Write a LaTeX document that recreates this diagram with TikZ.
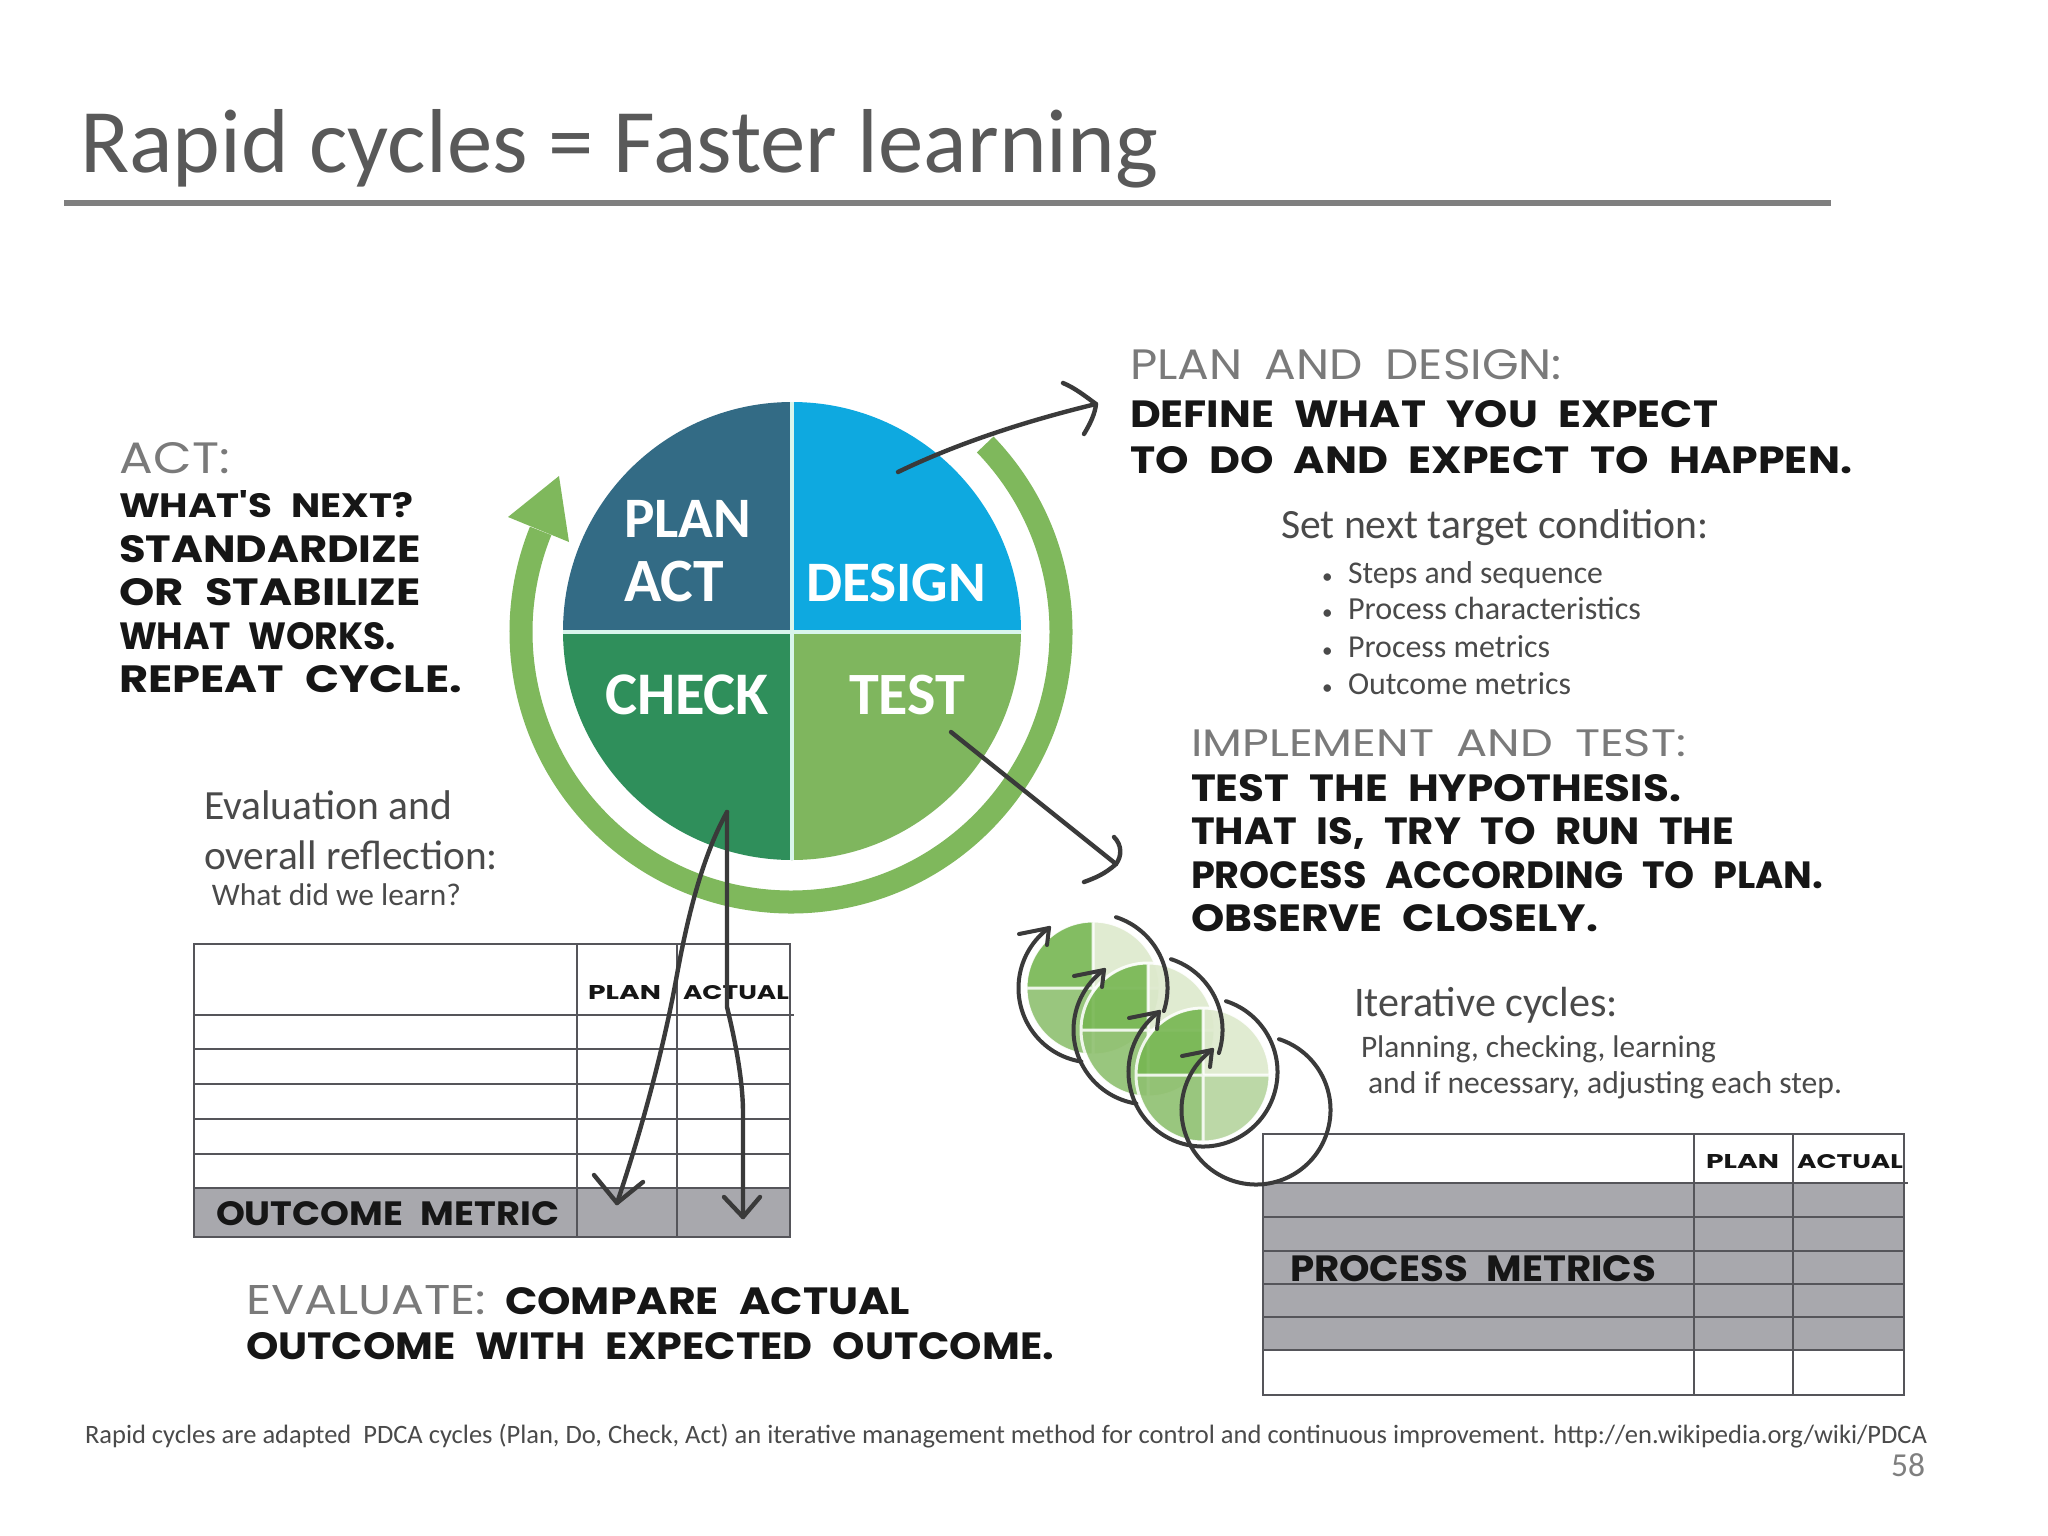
\documentclass[tikz,border=0pt]{standalone}
\usepackage{fontspec}
\usepackage{graphicx}
\setmainfont{Carlito}
\newfontfamily\handfont{Poppins}
\newdimen\pxu \pxu=0.01cm
\definecolor{titlegray}{HTML}{595959}
\definecolor{rulegray}{HTML}{7F7F7F}
\definecolor{bodygray}{HTML}{4A4A4A}
\definecolor{headgray}{HTML}{7A7A7A}
\definecolor{inkblack}{HTML}{161616}
\definecolor{linegray}{HTML}{55555A}
\definecolor{tablefill}{HTML}{A8A8AD}
\definecolor{arrowink}{HTML}{3A3A3A}
\definecolor{planblue}{HTML}{336B85}
\definecolor{designblue}{HTML}{0EA9E0}
\definecolor{checkgreen}{HTML}{2F8F5B}
\definecolor{testgreen}{HTML}{7FB65E}
\definecolor{ringgreen}{HTML}{7FB85C}
\definecolor{divider}{HTML}{D8F5EC}
\definecolor{qa}{HTML}{76B651}
\definecolor{qb}{HTML}{DDE9CC}
\definecolor{qc}{HTML}{8FC070}
\definecolor{qd}{HTML}{B5D49E}
\tikzset{
  txt/.style={inner sep=0pt,outer sep=0pt,anchor=base west},
  grid/.style={draw=linegray,line width=2.8*0.2845pt},
  ink/.style={draw=arrowink,line width=4.4*0.2845pt,line cap=round,line join=round},
  thin ink/.style={draw=arrowink,line width=4*0.2845pt,line cap=round,line join=round},
}
% name, x, y, width, colour and font, text: uniform fit to width
\newcommand\lbl[6]{\node[txt] (#1) at (#2,#3) {\resizebox{#4\pxu}{!}{\color{#5}#6}};}
% name, x, y, width, cap height, colour, text: marker lettering
\newcommand\hw[7]{\node[txt] (#1) at (#2,#3) {\resizebox{#4\pxu}{#5\pxu}{\color{#6}\handfont\bfseries\spaceskip=0.48em #7}};}
\newcommand\hwlight[7]{\node[txt] (#1) at (#2,#3) {\resizebox{#4\pxu}{#5\pxu}{\color{#6}\handfont\spaceskip=0.48em #7}};}
\begin{document}
\begin{tikzpicture}[x=0.01cm,y=-0.01cm]
\useasboundingbox (0,0) rectangle (2048,1536);
\fill[white] (0,0) rectangle (2048,1536);

% title
\lbl{title}{80}{172}{1078}{titlegray}{Rapid cycles = Faster learning}
\draw[rulegray,line width=6*0.2845pt] (64,203) -- (1831,203);

% ring
\draw[ringgreen,line width=23*0.2845pt] (791,632) ++(-44:270) arc[start angle=-44,end angle=202,radius=270];
\fill[ringgreen] (559,476) -- (508,517) -- (569,542) -- cycle;

% pie
\fill[planblue] (792,631) -- (563,631) arc[start angle=180,end angle=270,radius=229] -- cycle;
\fill[designblue] (792,631) -- (792,402) arc[start angle=270,end angle=360,radius=229] -- cycle;
\fill[testgreen] (792,631) -- (1021,631) arc[start angle=0,end angle=90,radius=229] -- cycle;
\fill[checkgreen] (792,631) -- (792,860) arc[start angle=90,end angle=180,radius=229] -- cycle;
\draw[divider,line width=3.2*0.2845pt] (792,402) -- (792,860) (563,632) -- (1021,632);
\lbl{plan}{624}{537}{127}{white}{\bfseries PLAN}
\lbl{act}{624}{601}{100}{white}{\bfseries ACT}
\lbl{design}{806}{601}{180}{white}{\bfseries DESIGN}
\lbl{check}{605}{714}{164}{white}{\bfseries CHECK}
\lbl{test}{849}{714}{116}{white}{\bfseries TEST}

% ACT text
\hwlight{acta}{120}{473}{110}{31}{headgray}{ACT:}
\hw{actb}{119}{517}{294}{27}{inkblack}{WHAT'S NEXT?}
\hw{actc}{119}{562}{302}{27}{inkblack}{STANDARDIZE}
\hw{actd}{119}{605}{302}{27}{inkblack}{OR STABILIZE}
\hw{acte}{119}{649}{277}{27}{inkblack}{WHAT WORKS.}
\hw{actf}{119}{692}{343}{27}{inkblack}{REPEAT CYCLE.}

% plan text
\hwlight{pla}{1130}{379}{432}{30}{headgray}{PLAN AND DESIGN:}
\hw{plb}{1130}{427}{588}{27}{inkblack}{DEFINE WHAT YOU EXPECT}
\hw{plc}{1130}{473}{722}{27}{inkblack}{TO DO AND EXPECT TO HAPPEN.}
\lbl{setnext}{1281}{538}{428}{bodygray}{Set next target condition:}
\foreach \nm/\yy/\ww/\tx in {ba/583/255/Steps and sequence,bb/619/293/Process characteristics,bc/657/202/Process metrics,bd/694/223/Outcome metrics}{
  \lbl{\nm}{1348}{\yy}{\ww}{bodygray}{\tx}
  \node[txt,text=bodygray,font=\fontsize{6}{8}\selectfont] (dot\nm) at (1322,\yy) {\textbullet};
}

% implement text
\hwlight{ima}{1191}{756}{495}{27}{headgray}{IMPLEMENT AND TEST:}
\hw{imb}{1191}{801}{490}{27}{inkblack}{TEST THE HYPOTHESIS.}
\hw{imc}{1191}{844}{543}{27}{inkblack}{THAT IS, TRY TO RUN THE}
\hw{imd}{1191}{888}{632}{27}{inkblack}{PROCESS ACCORDING TO PLAN.}
\hw{ime}{1191}{931}{407}{27}{inkblack}{OBSERVE CLOSELY.}
\lbl{itera}{1354}{1016}{264}{bodygray}{Iterative cycles:}
\lbl{iterb}{1361}{1057}{355}{bodygray}{Planning, checking, learning}
\lbl{iterc}{1368}{1093}{474}{bodygray}{and if necessary, adjusting each step.}

% evaluation text
\lbl{eva}{204}{819}{248}{bodygray}{Evaluation and}
\lbl{evb}{204}{869}{294}{bodygray}{overall reflection:}
\lbl{evc}{212}{905}{249}{bodygray}{What did we learn?}
\hwlight{eea}{246}{1314}{240}{29}{headgray}{EVALUATE:}
\hw{eeb}{505}{1314}{405}{27}{inkblack}{COMPARE ACTUAL}
\hw{eec}{246}{1359}{808}{27}{inkblack}{OUTCOME WITH EXPECTED OUTCOME.}

% left table
\fill[tablefill] (194,1188) rectangle (790,1237);
\draw[grid] (194,944) rectangle (790,1237);
\foreach \yy in {1049,1084,1119,1154,1188} \draw[grid] (194,\yy) -- (790,\yy);
\draw[grid] (194,1015) -- (794,1015);
\draw[grid] (577,944) -- (577,1237) (677,944) -- (677,1237);
\hw{lpl}{588}{999}{73}{14}{inkblack}{PLAN}
\hw{lac}{683}{999}{106}{14}{inkblack}{ACTUAL}
\hw{lom}{216}{1225}{343}{24}{inkblack}{OUTCOME METRIC}

% right table
\fill[tablefill] (1263,1183) rectangle (1904,1350);
\draw[grid] (1263,1134) rectangle (1904,1395);
\foreach \yy in {1217,1251,1284,1317,1350} \draw[grid] (1263,\yy) -- (1904,\yy);
\draw[grid] (1263,1183) -- (1908,1183);
\draw[grid] (1694,1134) -- (1694,1395) (1793,1134) -- (1793,1395);
\hw{rpl}{1706}{1168}{73}{14}{inkblack}{PLAN}
\hw{rac}{1797}{1168}{106}{14}{inkblack}{ACTUAL}
\hw{rpm}{1290}{1281}{366}{26}{inkblack}{PROCESS METRICS}

% footer
\lbl{foot}{85}{1443}{1842}{bodygray}{Rapid cycles are adapted\ \ PDCA cycles (Plan, Do, Check, Act) an iterative management method for control and continuous improvement. http://en.wikipedia.org/wiki/PDCA}
\lbl{page}{1891}{1476}{34}{rulegray}{58}

% connectors
\coordinate (dsgS) at (898,472);
\coordinate (dsgE) at (1096,404);
\coordinate (tstS) at (951,732);
\coordinate (tstE) at (1116,864);
\coordinate (chk) at (727,812);
\coordinate (chkL) at (617,1203);
\coordinate (chkR) at (743,1217);
\draw[ink] (dsgS) .. controls (960,442) and (1030,420) .. (dsgE);
\draw[ink] (1063,383) .. controls (1075,388) and (1085,396) .. (dsgE) .. controls (1095,414) and (1090,424) .. (1084,434);
\draw[ink] (tstS) -- (tstE);
\draw[ink] (1114,837) .. controls (1122,845) and (1122,856) .. (tstE) .. controls (1105,874) and (1095,878) .. (1084,882);
\draw[ink] (chk) .. controls (700,860) and (685,930) .. (676,980) .. controls (665,1040) and (645,1120) .. (chkL);
\draw[ink] (594,1175) -- (chkL) -- (643,1182);
\draw[ink] (chk) -- (727,1007) .. controls (735,1040) and (743,1080) .. (743,1113) -- (chkR);
\draw[ink] (724,1197) -- (chkR) -- (760,1197);

% iterative cycles
\foreach \cx/\cy in {1093/988,1148/1030,1203/1075}{
  \begin{scope}[shift={(\cx,\cy)},fill opacity=0.9]
    \fill[qa] (0,0) -- (-66,0) arc[start angle=180,end angle=270,radius=66] -- cycle;
    \fill[qb] (0,0) -- (0,-66) arc[start angle=270,end angle=360,radius=66] -- cycle;
    \fill[qd] (0,0) -- (66,0) arc[start angle=0,end angle=90,radius=66] -- cycle;
    \fill[qc] (0,0) -- (0,66) arc[start angle=90,end angle=180,radius=66] -- cycle;
    \draw[white,line width=3*0.2845pt,opacity=0.85] (0,0) circle[radius=67] (0,-67) -- (0,67) (-67,0) -- (67,0);
  \end{scope}
}
\foreach \cx/\cy in {1093/988,1148/1030}{
  \draw[thin ink] (\cx,\cy) ++(-72:74.5) arc[start angle=-72,end angle=18,radius=74.5];
  \draw[thin ink] (\cx,\cy) ++(99:74.5) arc[start angle=99,end angle=234,radius=74.5];
}
\foreach \cx/\cy in {1203/1072,1256/1110}{
  \draw[thin ink] (\cx,\cy) ++(-72:74.5) arc[start angle=-72,end angle=234,radius=74.5];
}
\foreach \cx/\cy in {1093/988,1148/1030,1203/1072,1256/1110}{
  \draw[thin ink] (\cx-30-44,\cy-60+6) -- (\cx-44,\cy-60) -- (\cx-46,\cy-60+17);
}
\end{tikzpicture}
\end{document}
